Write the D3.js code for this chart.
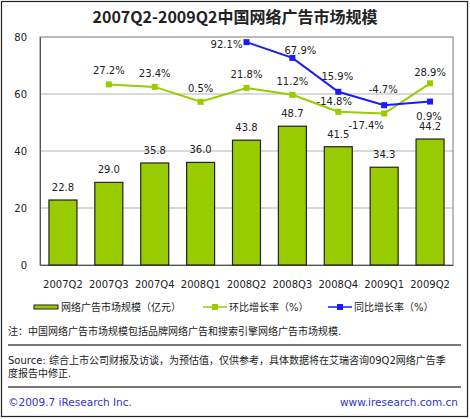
<!DOCTYPE html>
<html>
<head>
<meta charset="utf-8">
<script src="https://cdn.jsdelivr.net/npm/d3@7"></script>
<style>
body{margin:0;background:#fff;}
text{font-family:"DejaVu Sans","Noto Sans CJK SC",sans-serif;fill:#222;}
.cjk{font-family:"DejaVu Sans","Noto Sans CJK SC",sans-serif;}
</style>
</head>
<body>
<svg></svg>
<script>
// chart data
var quarters=["2007Q2","2007Q3","2007Q4","2008Q1","2008Q2","2008Q3","2008Q4","2009Q1","2009Q2"];
var marketSize=[22.8,29.0,35.8,36.0,43.8,48.7,41.5,34.3,44.2];
var qoqGrowth=[null,27.2,23.4,0.5,21.8,11.2,-14.8,-17.4,28.9];
var yoyGrowth=[null,null,null,null,92.1,67.9,15.9,-4.7,0.9];
var yTicks=[0,20,40,60,80];

// label placement beside each point (layout, not data)
var qoqLabelShift=[null,[0,-10],[0,-10],[0,-10],[0,-10],[0,-10],[-4,-7],[-18,16],[0,-7]];
var yoyLabelShift=[null,null,null,null,[-20,6],[8,-4],[-1,-12],[-1,-12],[-1,18]];

var width=470,height=419;
var plotLeft=40,plotRight=453,plotTop=37,plotBottom=265;
var green="#99cc00",blue="#1a1aff";

var svg=d3.select("svg").attr("width",width).attr("height",height);

// outer frame
svg.append("rect").attr("x",1.5).attr("y",1.5).attr("width",width-4).attr("height",height-4)
	.attr("fill","none").attr("stroke","#222").attr("stroke-width",1.2);

svg.append("text").attr("x",width/2).attr("y",23).attr("text-anchor","middle")
	.style("font-family","'Noto Sans CJK SC',sans-serif").style("font-weight","bold").style("font-size","16px")
	.text("2007Q2-2009Q2中国网络广告市场规模");

var x=d3.scaleBand().domain(quarters).range([plotLeft,plotRight]).paddingInner(0.39).paddingOuter(0.195);
var y=d3.scaleLinear().domain([0,80]).range([plotBottom,plotTop]);
var y2=d3.scaleLinear().domain([-250,100]).range([plotBottom,plotTop]);
var cx=function(q) {return x(q)+x.bandwidth()/2;};

// grid
svg.append("g").selectAll("line").data(yTicks.slice(1,4)).enter().append("line")
	.attr("x1",plotLeft).attr("x2",plotRight)
	.attr("y1",function(d) {return y(d);}).attr("y2",function(d) {return y(d);})
	.attr("stroke","#cccccc").attr("stroke-width",1.3);

svg.append("rect").attr("x",plotLeft).attr("y",plotTop).attr("width",plotRight-plotLeft).attr("height",plotBottom-plotTop)
	.attr("fill","none").attr("stroke","#777").attr("stroke-width",1);

var yAxis=svg.append("g").attr("transform","translate("+plotLeft+",0)")
	.call(d3.axisLeft(y).tickValues(yTicks).tickSize(0).tickPadding(13));
yAxis.select(".domain").attr("stroke","#555");
yAxis.selectAll("text").style("font-size","10px").style("fill","#222").style("font-family","'DejaVu Sans',sans-serif");

var xAxis=svg.append("g").attr("transform","translate(0,"+plotBottom+")")
	.call(d3.axisBottom(x).tickSize(0).tickPadding(16));
xAxis.select(".domain").attr("stroke","#555");
xAxis.selectAll("text").style("font-size","10px").style("fill","#222").style("font-family","'DejaVu Sans',sans-serif");

// bars
svg.append("g").selectAll("rect").data(marketSize).enter().append("rect")
	.attr("x",function(d,i) {return x(quarters[i]);})
	.attr("y",function(d) {return y(d);})
	.attr("width",x.bandwidth())
	.attr("height",function(d) {return y(0)-y(d);})
	.attr("fill",green).attr("stroke","#222").attr("stroke-width",1.2);

svg.append("g").selectAll("text").data(marketSize).enter().append("text")
	.attr("x",function(d,i) {return cx(quarters[i]);})
	.attr("y",function(d) {return y(d)-9;})
	.attr("text-anchor","middle").style("font-size","10px")
	.text(function(d) {return d.toFixed(1);});

function drawSeries(values,color,shifts) {
	var pts=values.map(function(v,i) {return {q:quarters[i],v:v,s:shifts[i]};}).filter(function(d) {return d.v!==null;});
	var line=d3.line().x(function(d) {return cx(d.q);}).y(function(d) {return y2(d.v);});
	svg.append("path").datum(pts).attr("d",line).attr("fill","none").attr("stroke",color).attr("stroke-width",2);
	svg.append("g").selectAll("rect").data(pts).enter().append("rect")
		.attr("x",function(d) {return cx(d.q)-3;}).attr("y",function(d) {return y2(d.v)-3;})
		.attr("width",6).attr("height",6).attr("fill",color);
	svg.append("g").selectAll("text").data(pts).enter().append("text")
		.attr("x",function(d) {return cx(d.q)+d.s[0];})
		.attr("y",function(d) {return y2(d.v)+d.s[1];})
		.attr("text-anchor","middle").style("font-size","10px")
		.text(function(d) {return d.v.toFixed(1)+"%";});
}
drawSeries(qoqGrowth,green,qoqLabelShift);
drawSeries(yoyGrowth,blue,yoyLabelShift);

// legend
var legendY=307;
svg.append("rect").attr("x",34).attr("y",legendY-2).attr("width",24).attr("height",4)
	.attr("fill",green).attr("stroke","#222").attr("stroke-width",1);
svg.append("text").attr("x",61).attr("y",legendY+4).style("font-size","10px").text("网络广告市场规模（亿元）");
[[203,green,"环比增长率（%）"],[328,blue,"同比增长率（%）"]].forEach(function(l) {
	svg.append("line").attr("x1",l[0]).attr("x2",l[0]+24).attr("y1",legendY).attr("y2",legendY)
		.attr("stroke",l[1]).attr("stroke-width",1.5);
	svg.append("rect").attr("x",l[0]+9).attr("y",legendY-3).attr("width",6).attr("height",6).attr("fill",l[1]);
	svg.append("text").attr("x",l[0]+26).attr("y",legendY+4).style("font-size","10px").text(l[2]);
});

// notes
svg.append("text").attr("x",8).attr("y",335).style("font-size","10px")
	.text("注：中国网络广告市场规模包括品牌网络广告和搜索引擎网络广告市场规模.");
svg.append("line").attr("x1",8).attr("x2",461).attr("y1",345).attr("y2",345).attr("stroke","#777").attr("stroke-width",2);
svg.append("text").attr("x",8).attr("y",364).style("font-size","10px")
	.text("Source: 综合上市公司财报及访谈，为预估值，仅供参考，具体数据将在艾瑞咨询09Q2网络广告季");
svg.append("text").attr("x",8).attr("y",377).style("font-size","10px").text("度报告中修正.");
svg.append("line").attr("x1",8).attr("x2",461).attr("y1",387).attr("y2",387).attr("stroke","#777").attr("stroke-width",2);

svg.append("text").attr("x",8).attr("y",406).style("font-size","10.5px").style("fill","#3333cc").text("©2009.7 iResearch Inc.");
svg.append("text").attr("x",458).attr("y",406).attr("text-anchor","end").style("font-size","10.5px").style("fill","#3333cc").text("www.iresearch.com.cn");
</script>
</body>
</html>
